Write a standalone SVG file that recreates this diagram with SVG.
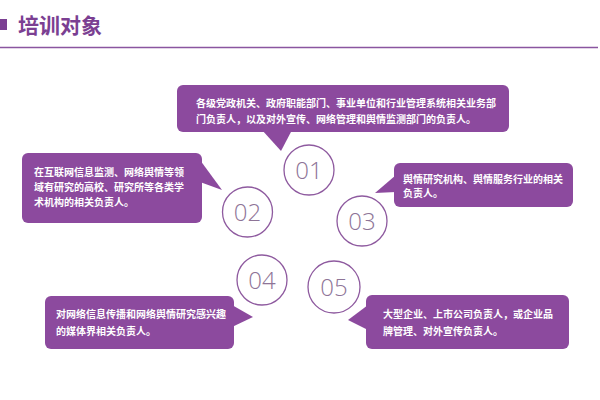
<svg xmlns="http://www.w3.org/2000/svg" width="600" height="400" viewBox="0 0 600 400">
<style>
.box{fill:#8c4a9e;}
.txt{font-family:"Noto Sans CJK SC","Noto Sans",sans-serif;font-size:10px;font-weight:bold;fill:#ffffff;}
.ring{fill:#ffffff;stroke:#8e5a9f;stroke-width:1.3;}
.num{font-family:"Open Sans","Liberation Sans",sans-serif;font-size:24px;font-weight:300;fill:#8e7497;text-anchor:middle;}
.title{font-family:"Noto Sans CJK SC",sans-serif;font-size:21px;font-weight:bold;fill:#7b3f92;}
</style>
<rect width="600" height="400" fill="#ffffff"/>
<g id="header">
<rect x="0" y="19" width="7" height="11" fill="#7b3f92"/>
<text class="title" x="18" y="33">培训对象</text>
<line x1="0" y1="47.5" x2="598" y2="47.5" stroke="#8a56a0" stroke-width="1.5"/>
</g>
<g id="connectors">
<polygon class="box" points="262,130 292,130 281,151"/>
<polygon class="box" points="200,160 200,182 222,190"/>
<polygon class="box" points="396,175 396,192 375,193"/>
<polygon class="box" points="232,305 232,327 253,317"/>
<polygon class="box" points="368,305 368,330 348,320"/>
</g>
<g id="node1">
<rect class="box" x="177" y="85" width="332" height="47" rx="6"/>
<text class="txt" x="196" y="107">各级党政机关、政府职能部门、事业单位和行业管理系统相关业务部</text>
<text class="txt" x="196" y="123">门负责人，以及对外宣传、网络管理和舆情监测部门的负责人。</text>
<circle class="ring" cx="309" cy="170" r="25"/>
<text class="num" x="309" y="179">01</text>
</g>
<g id="node2">
<rect class="box" x="22" y="153" width="180" height="70" rx="6"/>
<text class="txt" x="34" y="176">在互联网信息监测、网络舆情等领</text>
<text class="txt" x="34" y="191">域有研究的高校、研究所等各类学</text>
<text class="txt" x="34" y="206">术机构的相关负责人。</text>
<circle class="ring" cx="247.5" cy="212" r="25"/>
<text class="num" x="247.5" y="221">02</text>
</g>
<g id="node3">
<rect class="box" x="394" y="163" width="179" height="44" rx="6"/>
<text class="txt" x="403" y="183">舆情研究机构、舆情服务行业的相关</text>
<text class="txt" x="403" y="197">负责人。</text>
<circle class="ring" cx="362" cy="221" r="25"/>
<text class="num" x="362" y="230">03</text>
</g>
<g id="node4">
<rect class="box" x="45" y="296" width="189" height="53" rx="6"/>
<text class="txt" x="56" y="318">对网络信息传播和网络舆情研究感兴趣</text>
<text class="txt" x="56" y="335">的媒体界相关负责人。</text>
<circle class="ring" cx="262" cy="280" r="25"/>
<text class="num" x="262" y="289">04</text>
</g>
<g id="node5">
<rect class="box" x="366" y="295" width="203" height="54" rx="6"/>
<text class="txt" x="383" y="318">大型企业、上市公司负责人，或企业品</text>
<text class="txt" x="383" y="335">牌管理、对外宣传负责人。</text>
<circle class="ring" cx="334" cy="287" r="26"/>
<text class="num" x="334" y="296">05</text>
</g>
</svg>
